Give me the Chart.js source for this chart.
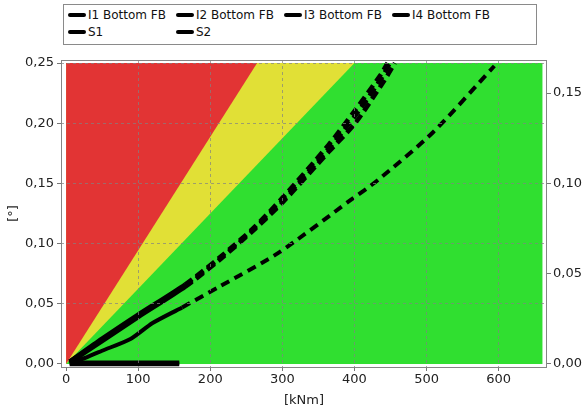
<!DOCTYPE html>
<html>
<head>
<meta charset="utf-8">
<script src="https://cdn.jsdelivr.net/npm/chart.js@4.4.1/dist/chart.umd.min.js"></script>
<style>
  html, body { margin: 0; padding: 0; background: #fff; }
  #wrap { position: relative; width: 585px; height: 410px; }
  #legend {
    position: absolute; left: 63px; top: 4px; width: 474px; height: 41px;
    border: 1px solid #8a8a8a; box-sizing: border-box; background: #fff;
    font-family: 'DejaVu Sans', sans-serif; font-size: 12px; color: #111;
  }
  .lg-item { position: absolute; display: flex; align-items: center; white-space: nowrap; }
  .lg-line { width: 18px; height: 4px; background: #000; margin-right: 2px; border-radius: 2px; }
</style>
</head>
<body>
<div id="wrap">
  <canvas id="chart" width="585" height="410"></canvas>
  <div id="legend"></div>
</div>
<script>
// ---------- ticks ----------
const X_TICKS  = [0, 100, 200, 300, 400, 500, 600]
const Y_TICKS  = [0, 0.05, 0.10, 0.15, 0.20, 0.25]
const Y2_TICKS = [0, 0.05, 0.10, 0.15]

// ---------- series ----------
const SERIES_NAMES = ['I1 Bottom FB', 'I2 Bottom FB', 'I3 Bottom FB', 'I4 Bottom FB', 'S1', 'S2']

const I1_X = [5, 50, 100, 165, 212, 260, 300, 364, 400, 436, 446]
const I1_Y = [0.002, 0.021, 0.041, 0.066, 0.088, 0.113, 0.138, 0.182, 0.210, 0.240, 0.250]

const I2_X = [5, 50, 100, 165, 212, 260, 300, 364, 401, 442, 456]
const I2_Y = [0.001, 0.019, 0.039, 0.064, 0.086, 0.111, 0.134, 0.176, 0.200, 0.236, 0.250]

const I3_X = [5, 50, 100, 165, 214, 262, 302, 366, 402, 438, 449]
const I3_Y = [0.002, 0.020, 0.040, 0.065, 0.088, 0.113, 0.137, 0.180, 0.207, 0.238, 0.250]

const I4_X = [8, 30, 50, 90, 120, 161, 212, 295, 392, 433, 509, 594]
const I4_Y = [0.001, 0.006, 0.011, 0.021, 0.034, 0.047, 0.064, 0.0925, 0.135, 0.153, 0.1925, 0.2475]

const S1_X = [5, 157]
const S1_Y = [0.000, 0.000]
const S2_X = [5, 157]
const S2_Y = [0.001, 0.001]

// 実線 → 破線に切り替わる位置 (kNm)
const SOLID_END = [165, 165, 165, 161, 999, 999]

// ---------- zones (filled up to 0.25) ----------
const RED_X    = [0, 265]
const RED_Y    = [0, 0.25]
const YELLOW_X = [0, 400]
const YELLOW_Y = [0, 0.25]
const GREEN_X  = [0, 661]
const GREEN_Y  = [0, 0]

const ZONE_TOP = 0.25
const RIGHT_RATIO = 1.5

const toPts = (xs, ys) => xs.map((x, i) => ({ x, y: ys[i] }))
const fmt = v => v.toFixed(2).replace('.', ',')

const SERIES_DATA = [
  toPts(I1_X, I1_Y), toPts(I2_X, I2_Y), toPts(I3_X, I3_Y),
  toPts(I4_X, I4_Y), toPts(S1_X, S1_Y), toPts(S2_X, S2_Y),
]

const lineSets = SERIES_NAMES.map((name, i) => ({
  label: name,
  data: SERIES_DATA[i],
  borderColor: '#000',
  borderWidth: i === 3 ? 4 : 4.5,
  borderCapStyle: 'butt',
  pointRadius: 0,
  tension: 0.25,
  fill: false,
  segment: {
    borderDash: ctx => ctx.p0.parsed.x >= SOLID_END[i] - 0.5
      ? (i === 3 ? [9, 6] : [9, 5])
      : undefined,
  },
}))

const zone = (xs, ys, color) => ({
  label: '',
  data: toPts(xs, ys),
  borderWidth: 0,
  borderColor: 'transparent',
  backgroundColor: color,
  pointRadius: 0,
  tension: 0,
  fill: { value: ZONE_TOP },
})

// 先頭のデータセットほど上に描かれる
const datasets = [
  ...lineSets,
  zone(RED_X, RED_Y, '#e23434'),
  zone(YELLOW_X, YELLOW_Y, '#e1e036'),
  zone(GREEN_X, GREEN_Y, '#30df30'),
]

const framePlugin = {
  id: 'frame',
  afterDraw(chart) {
    const { ctx, chartArea: a } = chart
    ctx.save()
    ctx.strokeStyle = '#858585'
    ctx.lineWidth = 1
    ctx.strokeRect(a.left + 0.5, a.top + 0.5, a.right - a.left - 1, a.bottom - a.top)
    ctx.restore()
  },
}

const tickFont = { family: "'DejaVu Sans', sans-serif", size: 13 }
// グリッドは塗りの上に描く (z: 1)
const gridStyle = {
  z: 1,
  color: c => (c.tick && c.tick.value === 0 ? 'transparent' : 'rgba(130,130,130,0.7)'),
  lineWidth: 1,
  tickLength: 4,
  tickColor: '#777',
  tickBorderDash: [1, 0],
}
// v4 ではグリッド線の破線は border.dash で指定
const borderStyle = { display: false, dash: [3, 3] }

new Chart(document.getElementById('chart'), {
  type: 'line',
  data: { datasets },
  plugins: [framePlugin],
  options: {
    responsive: false,
    animation: false,
    layout: { padding: { top: 60, left: 0, right: 0, bottom: 0 } },
    plugins: { legend: { display: false }, tooltip: { enabled: false } },
    scales: {
      x: {
        type: 'linear',
        min: -7, max: 667,
        afterBuildTicks: s => { s.ticks = X_TICKS.map(v => ({ value: v })) },
        afterFit: s => { s.height = 43 },
        ticks: { color: '#222', font: tickFont, padding: 1, callback: v => String(v) },
        grid: gridStyle,
        border: borderStyle,
        title: { display: true, text: '[kNm]', color: '#222', font: tickFont, padding: { top: 4, bottom: 2 } },
      },
      y: {
        min: -0.0025, max: 0.2525,
        afterBuildTicks: s => { s.ticks = Y_TICKS.map(v => ({ value: v })) },
        afterFit: s => { s.width = 61 },
        ticks: { color: '#222', font: tickFont, padding: 3, callback: v => fmt(v) },
        grid: gridStyle,
        border: borderStyle,
        title: { display: true, text: '[°]', color: '#222', font: tickFont, padding: { top: 6, bottom: 0 } },
      },
      y2: {
        position: 'right',
        min: -0.0025 / RIGHT_RATIO, max: 0.2525 / RIGHT_RATIO,
        afterBuildTicks: s => { s.ticks = Y2_TICKS.map(v => ({ value: v })) },
        afterFit: s => { s.width = 38 },
        ticks: { color: '#222', font: tickFont, padding: 2, callback: v => fmt(v) },
        grid: { drawOnChartArea: false, tickLength: 4, tickColor: '#777' },
        border: { display: false },
      },
    },
  },
})

// ---------- legend (4 列固定) ----------
const legend = document.getElementById('legend')
SERIES_NAMES.forEach((name, i) => {
  const item = document.createElement('div')
  item.className = 'lg-item'
  item.style.left = (4 + (i % 4) * 108) + 'px'
  item.style.top = (3 + Math.floor(i / 4) * 17) + 'px'
  item.innerHTML = '<span class="lg-line"></span><span></span>'
  item.lastChild.textContent = name
  legend.appendChild(item)
})
</script>
</body>
</html>
